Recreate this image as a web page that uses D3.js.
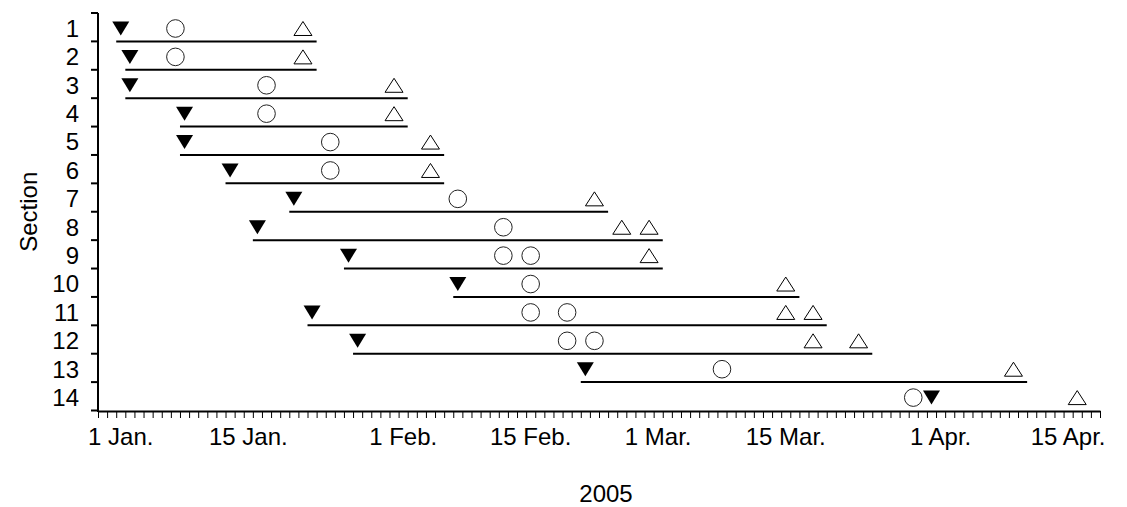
<!DOCTYPE html>
<html>
<head>
<meta charset="utf-8">
<script src="https://cdn.jsdelivr.net/npm/d3@7"></script>
<style>
  body { margin: 0; background: #fff; }
  svg { display: block; background: #fff; }
  text { font-family: "Liberation Sans", Arial, sans-serif; fill: #000; }
</style>
</head>
<body>
<svg id="chart" width="1127" height="507"></svg>
<script>
// days counted from 1 Jan. 2005 (0 = 1 Jan.)
const sections = [1, 2, 3, 4, 5, 6, 7, 8, 9, 10, 11, 12, 13, 14]
const startDays = [0, 1, 1, 7, 7, 12, 19, 15, 25, 37, 21, 26, 51, 89]          // filled down triangle
const circleDays = [[6], [6], [16], [16], [23], [23], [37], [42], [42, 45], [45], [45, 49], [49, 52], [66], [87]]
const triangleDays = [[20], [20], [30], [30], [34], [34], [52], [55, 58], [58], [73], [73, 76], [76, 81], [98], [105]]
const lineStart = [0, 1, 1, 7, 7, 12, 19, 15, 25, 37, 21, 26, 51, null]
const lineEnd = [22, 22, 32, 32, 36, 36, 54, 60, 60, 75, 78, 83, 100, null]
const tickDays = [0, 14, 31, 45, 59, 73, 90, 104]
const tickLabels = ['1 Jan.', '15 Jan.', '1 Feb.', '15 Feb.', '1 Mar.', '15 Mar.', '1 Apr.', '15 Apr.']

const svg = d3.select('#chart')
const fontSize = 24

const x = d3.scaleLinear().domain([-2, 108]).range([98, 1100])
const y = d3.scaleBand().domain(sections).range([13, 410.5])
const bw = y.bandwidth()
const markY = s => y(s) + bw / 2 + 1.3

// x axis with a tick for every day
const xAxis = svg.append('g')
    .attr('transform', 'translate(0,411)')
    .call(d3.axisBottom(x).tickValues(d3.range(-2, 109)).tickSize(7).tickSizeOuter(0).tickFormat(''))
xAxis.select('.domain').attr('stroke-width', 2)
xAxis.selectAll('.tick line').attr('stroke-width', 1)

svg.selectAll('.xlab')
    .data(tickDays)
    .enter()
    .append('text')
    .attr('class', 'xlab')
    .attr('x', d => x(d + 0.5))
    .attr('y', 445)
    .attr('text-anchor', 'middle')
    .attr('font-size', fontSize)
    .text((d, i) => tickLabels[i])

// y axis: ticks on the section borders, labels in the middle
svg.append('line')
    .attr('x1', 98).attr('x2', 98)
    .attr('y1', y.range()[0]).attr('y2', 412)
    .attr('stroke', '#000')
    .attr('stroke-width', 2)

const borders = sections.map(s => y(s)).concat([y.range()[1]])
svg.selectAll('.ytick')
    .data(borders)
    .enter()
    .append('line')
    .attr('x1', 91).attr('x2', 98)
    .attr('y1', d => d).attr('y2', d => d)
    .attr('stroke', '#000')
    .attr('stroke-width', 2)

svg.selectAll('.ylab')
    .data(sections)
    .enter()
    .append('text')
    .attr('x', 79)
    .attr('y', s => y(s) + bw / 2)
    .attr('dy', '0.4em')
    .attr('text-anchor', 'end')
    .attr('font-size', fontSize)
    .text(s => s)

svg.append('text')
    .attr('transform', `translate(37,${(y.range()[0] + y.range()[1]) / 2}) rotate(-90)`)
    .attr('text-anchor', 'middle')
    .attr('font-size', fontSize)
    .text('Section')

svg.append('text')
    .attr('x', 606)
    .attr('y', 502)
    .attr('text-anchor', 'middle')
    .attr('font-size', fontSize)
    .text('2005')

// section lines
const rows = sections.map((s, i) => ({
    section: s,
    start: startDays[i],
    circles: circleDays[i],
    triangles: triangleDays[i],
    from: lineStart[i],
    to: lineEnd[i]
}))

svg.selectAll('.span')
    .data(rows.filter(r => r.from !== null))
    .enter()
    .append('line')
    .attr('x1', r => x(r.from))
    .attr('x2', r => x(r.to))
    .attr('y1', r => y(r.section) + bw)
    .attr('y2', r => y(r.section) + bw)
    .attr('stroke', '#000')
    .attr('stroke-width', 2)

const downTri = 'M-8.5,-7L8.5,-7L0,7Z'
const upTri = 'M-9,7L9,7L0,-7Z'

svg.selectAll('.down')
    .data(rows)
    .enter()
    .append('path')
    .attr('d', downTri)
    .attr('transform', r => `translate(${x(r.start + 0.5)},${markY(r.section)})`)
    .attr('fill', '#000')

const circles = rows.flatMap(r => r.circles.map(d => ({ section: r.section, day: d })))
svg.selectAll('.circ')
    .data(circles)
    .enter()
    .append('circle')
    .attr('cx', c => x(c.day + 0.5))
    .attr('cy', c => markY(c.section))
    .attr('r', 8.8)
    .attr('fill', '#fff')
    .attr('stroke', '#222')
    .attr('stroke-width', 1)

const tris = rows.flatMap(r => r.triangles.map(d => ({ section: r.section, day: d })))
svg.selectAll('.up')
    .data(tris)
    .enter()
    .append('path')
    .attr('d', upTri)
    .attr('transform', t => `translate(${x(t.day + 0.5)},${markY(t.section)})`)
    .attr('fill', '#fff')
    .attr('stroke', '#000')
    .attr('stroke-width', 1)
</script>
</body>
</html>
